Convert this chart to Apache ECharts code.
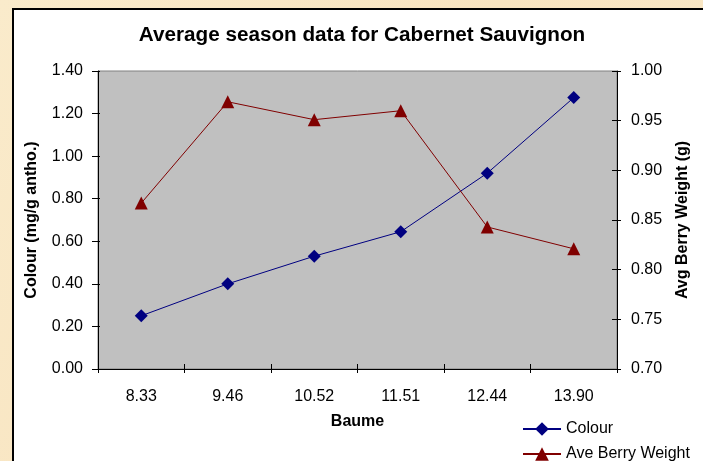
<!DOCTYPE html>
<html>
<head>
<meta charset="utf-8">
<script src="https://cdn.jsdelivr.net/npm/echarts@6/dist/echarts.min.js"></script>
<style>
html,body{margin:0;padding:0;background:#F9E8C6;}
#main{width:703px;height:461px;}
</style>
</head>
<body>
<div id="main"></div>
<script>
var categories = ['8.33', '9.46', '10.52', '11.51', '12.44', '13.90'];
var colourValues = [0.25, 0.40, 0.53, 0.645, 0.92, 1.275];
var berryWeightValues = [0.867, 0.969, 0.951, 0.960, 0.843, 0.821];
var titleText = 'Average season data for Cabernet Sauvignon';
var xName = 'Baume';
var leftName = 'Colour (mg/g antho.)';
var rightName = 'Avg Berry Weight (g)';
var colourName = 'Colour';
var weightName = 'Ave Berry Weight';

var font = '"Liberation Sans", Arial, sans-serif';
var chart = echarts.init(document.getElementById('main'));
function fmt(v){ return v.toFixed(2); }
var legendBase = {
  orient: 'vertical', left: 522, padding: 0,
  itemWidth: 38, itemHeight: 17, itemGap: 4,
  textStyle: {fontFamily: font, fontSize: 16, color: '#000'}
};

chart.setOption({
  backgroundColor: {
    type: 'linear', x: 0, y: 0, x2: 1, y2: 1,
    colorStops: [{offset: 0, color: '#FAEBCB'}, {offset: 0.5, color: '#F8E4C0'}, {offset: 1, color: '#FAEACA'}]
  },
  animation: false,
  graphic: [{
    type: 'rect',
    shape: {x: 13, y: 9, width: 720, height: 480},
    style: {fill: '#FFFFFF', stroke: '#000000', lineWidth: 2},
    z: -10
  }],
  title: {
    text: titleText,
    left: 362, top: 25, textAlign: 'center', padding: 0,
    textStyle: {fontFamily: font, fontSize: 20.7, fontWeight: 'bold', color: '#000'}
  },
  grid: {
    left: 98, right: 86, top: 71, bottom: 92,
    show: true, backgroundColor: '#C0C0C0', borderColor: '#808080', borderWidth: 1
  },
  legend: [
    Object.assign({}, legendBase, {top: 421, data: [colourName]}),
    Object.assign({}, legendBase, {top: 446, data: [weightName]})
  ],
  xAxis: [{
    type: 'category', data: categories,
    name: xName, nameLocation: 'middle', nameGap: 45,
    nameTextStyle: {fontFamily: font, fontSize: 16, fontWeight: 'bold', color: '#000'},
    axisLine: {lineStyle: {color: '#000', width: 1}},
    axisTick: {show: true, length: 4, lineStyle: {color: '#000'}},
    axisLabel: {fontFamily: font, fontSize: 16, color: '#000', margin: 20},
    splitLine: {show: false}
  }, {
    type: 'category', data: categories, position: 'bottom',
    axisLine: {show: false},
    axisTick: {show: true, inside: true, length: 5, lineStyle: {color: '#000'}},
    axisLabel: {show: false}, splitLine: {show: false}
  }],
  yAxis: [{
    type: 'value', min: 0, max: 1.4, interval: 0.2, position: 'left',
    name: leftName, nameLocation: 'middle', nameGap: 58, nameRotate: 90,
    nameTextStyle: {fontFamily: font, fontSize: 16, fontWeight: 'bold', color: '#000'},
    axisLine: {show: true, lineStyle: {color: '#000', width: 1}},
    axisTick: {show: true, length: 6, lineStyle: {color: '#000'}},
    axisLabel: {fontFamily: font, fontSize: 16, color: '#000', margin: 15, formatter: fmt},
    splitLine: {show: false}
  }, {
    type: 'value', min: 0.7, max: 1.0, interval: 0.05, position: 'right',
    name: rightName, nameLocation: 'middle', nameGap: 58, nameRotate: 90,
    nameTextStyle: {fontFamily: font, fontSize: 16, fontWeight: 'bold', color: '#000'},
    axisLine: {show: true, lineStyle: {color: '#000', width: 1}},
    axisTick: {show: true, length: 4, lineStyle: {color: '#000'}},
    axisLabel: {fontFamily: font, fontSize: 16, color: '#000', margin: 14, formatter: fmt},
    splitLine: {show: false}
  }, {
    type: 'value', min: 0, max: 1.4, interval: 0.2, position: 'left',
    axisLine: {show: false},
    axisTick: {show: true, inside: true, length: 2, lineStyle: {color: '#000'}},
    axisLabel: {show: false}, splitLine: {show: false}
  }, {
    type: 'value', min: 0.7, max: 1.0, interval: 0.05, position: 'right',
    axisLine: {show: false},
    axisTick: {show: true, inside: true, length: 5, lineStyle: {color: '#000'}},
    axisLabel: {show: false}, splitLine: {show: false}
  }],
  series: [{
    name: colourName, type: 'line', yAxisIndex: 0, data: colourValues,
    symbol: 'diamond', symbolSize: 13,
    itemStyle: {color: '#000080'},
    lineStyle: {color: '#000080', width: 1}
  }, {
    name: weightName, type: 'line', yAxisIndex: 1, data: berryWeightValues,
    symbol: 'triangle', symbolSize: 13,
    itemStyle: {color: '#800000'},
    lineStyle: {color: '#800000', width: 1}
  }]
});
</script>
</body>
</html>
